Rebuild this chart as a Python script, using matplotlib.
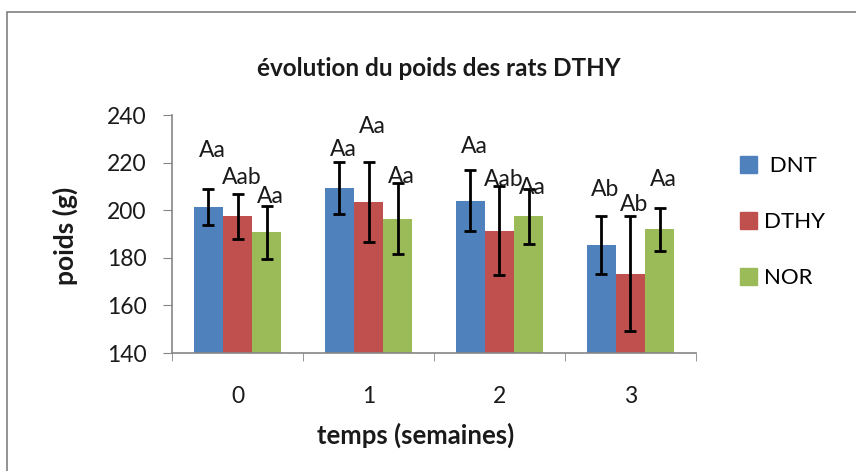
import matplotlib.pyplot as plt
import matplotlib.patches as mpatches
import numpy as np

plt.rcParams['font.family'] = ['Lato', 'DejaVu Sans']

weeks = ['0', '1', '2', '3']
groups = ['DNT', 'DTHY', 'NOR']
colors = ['#4F81BD', '#C0504D', '#9BBB59']

dnt = [201.3, 209.4, 204.0, 185.3]
dthy = [197.5, 203.4, 191.3, 173.3]
nor = [190.8, 196.4, 197.5, 191.9]

dnt_err = [7.6, 10.8, 12.8, 12.1]
dthy_err = [9.5, 16.8, 18.7, 24.2]
nor_err = [11.1, 15.0, 11.5, 8.9]

# significance letters and where they sit
dnt_lab = ['Aa', 'Aa', 'Aa', 'Ab']
dthy_lab = ['Aab', 'Aa', 'Aab', 'Ab']
nor_lab = ['Aa', 'Aa', 'Aa', 'Aa']
dnt_lab_y = [225.0, 225.7, 226.7, 208.8]
dthy_lab_y = [213.6, 235.0, 212.7, 202.2]
nor_lab_y = [205.6, 214.0, 209.4, 212.7]

values = [dnt, dthy, nor]
errors = [dnt_err, dthy_err, nor_err]
labels = [dnt_lab, dthy_lab, nor_lab]
label_y = [dnt_lab_y, dthy_lab_y, nor_lab_y]

fig = plt.figure(figsize=(8.56, 4.71), dpi=100)
ax = fig.add_axes([0.201, 0.2505, 0.612, 0.5053])

x = np.arange(len(weeks))
w = 1 / 4.5
for i in range(3):
    pos = x + (i - 1) * w
    ax.bar(pos, values[i], w, bottom=0, color=colors[i], label=groups[i], zorder=2)
    ax.errorbar(pos, values[i], yerr=errors[i], fmt='none', ecolor='black',
                elinewidth=2, capsize=4, capthick=2, zorder=3)
    for j in range(len(weeks)):
        ax.text(pos[j] + 0.03, label_y[i][j], labels[i][j], ha='center', va='center',
                fontsize=16.5, color='#1a1a1a', zorder=4)

ax.set_ylim(140, 240)
ax.set_xlim(-0.5, 3.5)
ax.set_yticks([140, 160, 180, 200, 220, 240])
ax.set_xticks(x)
ax.set_xticklabels(weeks)
ax.set_xticks(np.arange(-0.5, 4, 1), minor=True)
ax.tick_params(axis='x', which='major', length=0, pad=24, labelsize=16.5, labelcolor='#1a1a1a')
ax.tick_params(axis='x', which='minor', length=6, color='#868686', direction='out')
ax.tick_params(axis='y', length=6.5, color='#868686', direction='out', labelsize=16.5,
               labelcolor='#1a1a1a', pad=12)
for s in ['top', 'right']:
    ax.spines[s].set_visible(False)
for s in ['left', 'bottom']:
    ax.spines[s].set_color('#868686')
    ax.spines[s].set_linewidth(1.2)

fig.text(0.513, 0.855, 'évolution du poids des rats DTHY', ha='center', va='center',
         fontsize=17.5, fontweight='bold', color='#1a1a1a')
fig.text(0.486, 0.075, 'temps (semaines)', ha='center', va='center',
         fontsize=18.5, fontweight='bold', color='#1a1a1a')
fig.text(0.076, 0.5, 'poids (g)', ha='center', va='center', rotation=90,
         fontsize=19, fontweight='bold', color='#1a1a1a')

handles = [mpatches.Patch(color=colors[i], label=groups[i]) for i in range(3)]
fig.legend(handles=handles, labels=[' DNT', 'DTHY', 'NOR'], loc='upper left',
           bbox_to_anchor=(0.852, 0.692), frameon=False, fontsize=16,
           handlelength=0.75, handleheight=0.75, handletextpad=0.3,
           labelspacing=1.62, borderpad=0)

fig.patches.append(mpatches.Rectangle((7 / 856, -0.1), 1.2, 1 - 12 / 471 + 0.1,
                                      transform=fig.transFigure, fill=False,
                                      edgecolor='#808080', linewidth=1.2))

fig.savefig('out.png', dpi=100)
